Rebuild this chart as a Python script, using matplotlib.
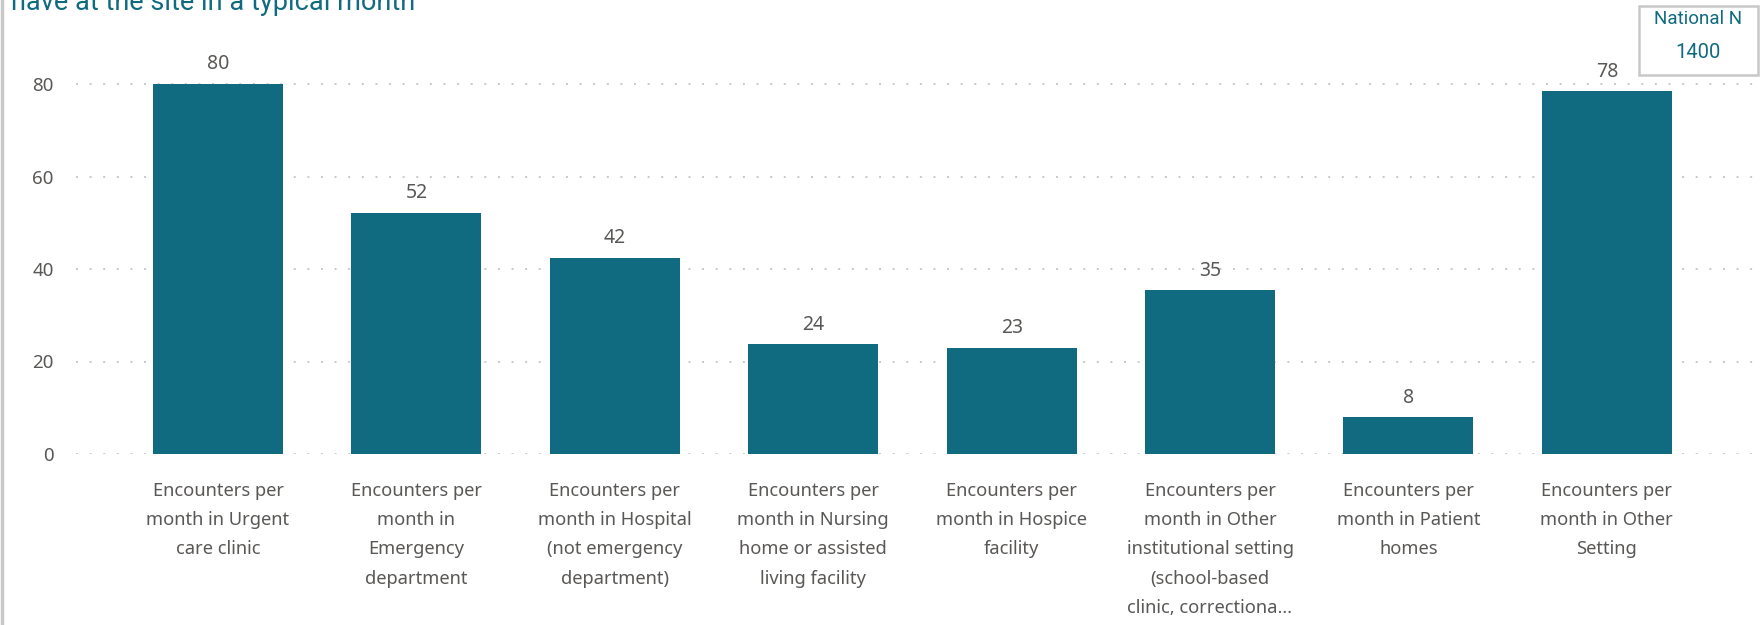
import numpy as np
import matplotlib
matplotlib.use("Agg")
from matplotlib import pyplot as plt

# data
categories = [
    "Encounters per\nmonth in Urgent\ncare clinic",
    "Encounters per\nmonth in\nEmergency\ndepartment",
    "Encounters per\nmonth in Hospital\n(not emergency\ndepartment)",
    "Encounters per\nmonth in Nursing\nhome or assisted\nliving facility",
    "Encounters per\nmonth in Hospice\nfacility",
    "Encounters per\nmonth in Other\ninstitutional setting\n(school-based\nclinic, correctiona\u2026",
    "Encounters per\nmonth in Patient\nhomes",
    "Encounters per\nmonth in Other\nSetting",
]
values = [80.0, 52.2, 42.4, 23.7, 22.9, 35.4, 7.9, 78.4]
yticks = [0, 20, 40, 60, 80]
title = "have at the site in a typical month"
national_n = 1400

teal = "#106B80"
gray_txt = "#5A5856"
grid_col = "#C8C8C8"

W, H = 1762, 625
fig = plt.figure(figsize=(W / 100, H / 100), dpi=100)
ax = fig.add_axes([76 / W, 1 - 454 / H, (1759 - 76) / W, (454 - 47) / H])

x = np.arange(len(values))
bars = ax.bar(x, values, width=0.655, color=teal, zorder=2)
for xi, v in zip(x, values):
    ax.annotate(f"{round(v)}", (xi, v), xytext=(0, 7), textcoords="offset points",
                ha="center", va="bottom", fontsize=14, color=gray_txt, family="Noto Sans")

ax.set_xlim(-0.716, 7.767)
ax.set_ylim(0, 88)
ax.set_yticks(yticks)
ax.set_xticks(x)
ax.set_xticklabels(categories, fontsize=13.2, color=gray_txt, family="Noto Sans", linespacing=1.81)
for lab in ax.get_yticklabels():
    lab.set_fontsize(13.5)
    lab.set_color(gray_txt)
    lab.set_family("Noto Sans")
ax.tick_params(axis="x", length=0, pad=20)
ax.tick_params(axis="y", length=0, pad=16)
for s in ax.spines.values():
    s.set_visible(False)
ax.yaxis.grid(True, color=grid_col, linestyle=(0, (1, 6)), linewidth=1.4, zorder=0)
ax.set_axisbelow(True)

# title (cut off at the top in the original)
fig.text(11 / W, 1 - 10.5 / H, title, ha="left", va="baseline", fontsize=19.5,
         color=teal, family="Roboto")

# left border of the visual
fig.add_artist(plt.Line2D([1.5 / W, 1.5 / W], [0, 1], color=grid_col, linewidth=2.5,
                          transform=fig.transFigure))

# National N card
card = plt.Rectangle((1639 / W, 1 - 75 / H), (1758 - 1639) / W, (75 - 6) / H,
                     transform=fig.transFigure, fill=False, edgecolor=grid_col, linewidth=1.8)
fig.add_artist(card)
fig.text(1698 / W, 1 - 19 / H, "National N", ha="center", va="center", fontsize=13.5,
         color=teal, family="Roboto")
fig.text(1698 / W, 1 - 53 / H, f"{national_n}", ha="center", va="center", fontsize=14.5,
         color=teal, family="Roboto")

fig.savefig("out.png", dpi=100)
